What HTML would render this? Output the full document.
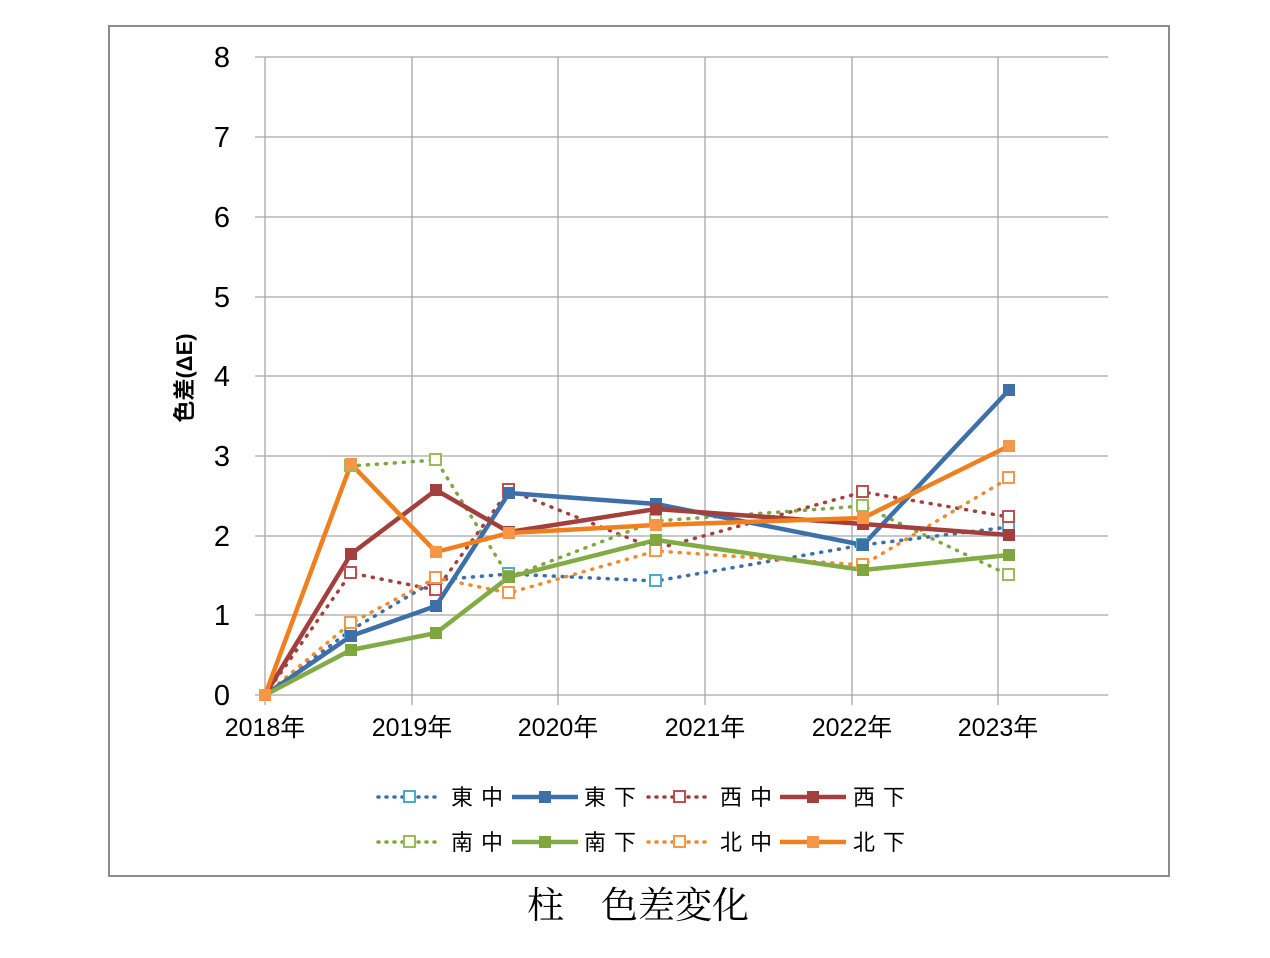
<!DOCTYPE html>
<html><head><meta charset="utf-8"><style>
body{margin:0;background:#fff;width:1270px;height:953px;overflow:hidden}
</style></head><body>
<svg width="1270" height="953" xmlns="http://www.w3.org/2000/svg" style="font-family:'Liberation Sans','Noto Sans CJK JP',sans-serif">
<rect x="109" y="26" width="1060" height="850" fill="#fff" stroke="#8c8c8c" stroke-width="2"/>
<g stroke="#a6a6a6" stroke-width="1.3">
<line x1="255" y1="57" x2="1108" y2="57"/><line x1="255" y1="137" x2="1108" y2="137"/>
<line x1="255" y1="217" x2="1108" y2="217"/><line x1="255" y1="297" x2="1108" y2="297"/>
<line x1="255" y1="376" x2="1108" y2="376"/><line x1="255" y1="456" x2="1108" y2="456"/>
<line x1="255" y1="536" x2="1108" y2="536"/><line x1="255" y1="615" x2="1108" y2="615"/>
<line x1="255" y1="695" x2="1108" y2="695"/>
<line x1="265" y1="57" x2="265" y2="705"/><line x1="412" y1="57" x2="412" y2="705"/>
<line x1="558" y1="57" x2="558" y2="705"/><line x1="705" y1="57" x2="705" y2="705"/>
<line x1="852" y1="57" x2="852" y2="705"/><line x1="998" y1="57" x2="998" y2="705"/>
</g>
<g font-size="29" fill="#000" text-anchor="end">
<text x="230" y="67">8</text><text x="230" y="147">7</text><text x="230" y="227">6</text><text x="230" y="307">5</text><text x="230" y="386">4</text><text x="230" y="466">3</text><text x="230" y="546">2</text><text x="230" y="625">1</text><text x="230" y="705">0</text>
</g>
<g font-size="25" fill="#000" text-anchor="middle">
<text x="265" y="736">2018年</text><text x="412" y="736">2019年</text><text x="558" y="736">2020年</text><text x="705" y="736">2021年</text><text x="852" y="736">2022年</text><text x="998" y="736">2023年</text>
</g>
<text transform="translate(192,378) rotate(-90)" font-size="22" font-weight="bold" text-anchor="middle">色差(ΔE)</text>
<g fill="none" stroke-linejoin="round">
<polyline stroke="#3d6fa8" stroke-width="3.5" stroke-dasharray="1 8" stroke-linecap="round" points="265,695 351,630 436,580 509,574 656,581 863,545 1009,527"/>
<polyline stroke="#a33f3c" stroke-width="3.5" stroke-dasharray="1 8" stroke-linecap="round" points="265,695 351,573 436,590 509,490 656,549 863,492 1009,517"/>
<polyline stroke="#7fa63f" stroke-width="3.5" stroke-dasharray="1 8" stroke-linecap="round" points="265,695 351,466 436,460 509,577 656,521 863,506 1009,575"/>
<polyline stroke="#f08a2c" stroke-width="3.5" stroke-dasharray="1 8" stroke-linecap="round" points="265,695 351,623 436,578 509,593 656,551 863,565 1009,478"/>
<polyline stroke="#3d6fa8" stroke-width="4.5" points="265,695 351,636 436,606 509,493 656,504 863,545 1009,390"/>
<polyline stroke="#a33f3c" stroke-width="4.5" points="265,695 351,554 436,490 509,532 656,509 863,524 1009,535"/>
<polyline stroke="#82ab45" stroke-width="4.5" points="265,695 351,650 436,633 509,577 656,540 863,570 1009,555"/>
<polyline stroke="#f07f1e" stroke-width="4.5" points="265,695 351,464 436,552 509,533 656,525 863,518 1009,446"/>
</g>
<g stroke-width="2" fill="#fff">
<g stroke="#4bacc6"><rect x="345" y="624" width="11" height="11"/><rect x="430" y="574" width="11" height="11"/><rect x="503" y="568" width="11" height="11"/><rect x="650" y="575" width="11" height="11"/><rect x="857" y="539" width="11" height="11"/><rect x="1003" y="521" width="11" height="11"/></g>
<g stroke="#c0504d"><rect x="345" y="567" width="11" height="11"/><rect x="430" y="584" width="11" height="11"/><rect x="503" y="484" width="11" height="11"/><rect x="650" y="543" width="11" height="11"/><rect x="857" y="486" width="11" height="11"/><rect x="1003" y="511" width="11" height="11"/></g>
<g stroke="#9bbb59"><rect x="345" y="460" width="11" height="11"/><rect x="430" y="454" width="11" height="11"/><rect x="503" y="571" width="11" height="11"/><rect x="650" y="515" width="11" height="11"/><rect x="857" y="500" width="11" height="11"/><rect x="1003" y="569" width="11" height="11"/></g>
<g stroke="#f79646"><rect x="345" y="617" width="11" height="11"/><rect x="430" y="572" width="11" height="11"/><rect x="503" y="587" width="11" height="11"/><rect x="650" y="545" width="11" height="11"/><rect x="857" y="559" width="11" height="11"/><rect x="1003" y="472" width="11" height="11"/></g>
</g>
<g fill="#3d6fa8"><rect x="345" y="630" width="12" height="12"/><rect x="430" y="600" width="12" height="12"/><rect x="503" y="487" width="12" height="12"/><rect x="650" y="498" width="12" height="12"/><rect x="857" y="539" width="12" height="12"/><rect x="1003" y="384" width="12" height="12"/></g>
<g fill="#a33f3c"><rect x="345" y="548" width="12" height="12"/><rect x="430" y="484" width="12" height="12"/><rect x="503" y="526" width="12" height="12"/><rect x="650" y="503" width="12" height="12"/><rect x="857" y="518" width="12" height="12"/><rect x="1003" y="529" width="12" height="12"/></g>
<g fill="#7fa63f"><rect x="345" y="644" width="12" height="12"/><rect x="430" y="627" width="12" height="12"/><rect x="503" y="571" width="12" height="12"/><rect x="650" y="534" width="12" height="12"/><rect x="857" y="564" width="12" height="12"/><rect x="1003" y="549" width="12" height="12"/></g>
<g fill="#f79646"><rect x="259" y="689" width="12" height="12"/><rect x="345" y="458" width="12" height="12"/><rect x="430" y="546" width="12" height="12"/><rect x="503" y="527" width="12" height="12"/><rect x="650" y="519" width="12" height="12"/><rect x="857" y="512" width="12" height="12"/><rect x="1003" y="440" width="12" height="12"/></g>
<g fill="none">
<line x1="378" y1="797" x2="440" y2="797" stroke="#3d6fa8" stroke-width="3.5" stroke-dasharray="1 7" stroke-linecap="round"/>
<rect x="404" y="791" width="11" height="11" stroke="#4bacc6" stroke-width="2" fill="#fff"/>
<line x1="512" y1="797" x2="578" y2="797" stroke="#3d6fa8" stroke-width="4.5"/>
<rect x="539" y="791" width="12" height="12" fill="#3d6fa8"/>
<line x1="648" y1="797" x2="710" y2="797" stroke="#a33f3c" stroke-width="3.5" stroke-dasharray="1 7" stroke-linecap="round"/>
<rect x="674" y="791" width="11" height="11" stroke="#c0504d" stroke-width="2" fill="#fff"/>
<line x1="780" y1="797" x2="846" y2="797" stroke="#a33f3c" stroke-width="4.5"/>
<rect x="807" y="791" width="12" height="12" fill="#a33f3c"/>
<line x1="378" y1="842" x2="440" y2="842" stroke="#7fa63f" stroke-width="3.5" stroke-dasharray="1 7" stroke-linecap="round"/>
<rect x="404" y="836" width="11" height="11" stroke="#9bbb59" stroke-width="2" fill="#fff"/>
<line x1="512" y1="842" x2="578" y2="842" stroke="#82ab45" stroke-width="4.5"/>
<rect x="539" y="836" width="12" height="12" fill="#7fa63f"/>
<line x1="648" y1="842" x2="710" y2="842" stroke="#f08a2c" stroke-width="3.5" stroke-dasharray="1 7" stroke-linecap="round"/>
<rect x="674" y="836" width="11" height="11" stroke="#f79646" stroke-width="2" fill="#fff"/>
<line x1="780" y1="842" x2="846" y2="842" stroke="#f07f1e" stroke-width="4.5"/>
<rect x="807" y="836" width="12" height="12" fill="#f79646"/>
</g>
<g font-size="22" fill="#000" letter-spacing="8">
<text x="451" y="805">東中</text><text x="584" y="805">東下</text><text x="720" y="805">西中</text><text x="853" y="805">西下</text>
<text x="451" y="850">南中</text><text x="584" y="850">南下</text><text x="720" y="850">北中</text><text x="853" y="850">北下</text>
</g>
<text x="638" y="918" font-size="37" text-anchor="middle" font-family="'Liberation Serif','Noto Serif CJK SC',serif">柱　色差変化</text>
</svg>
</body></html>
